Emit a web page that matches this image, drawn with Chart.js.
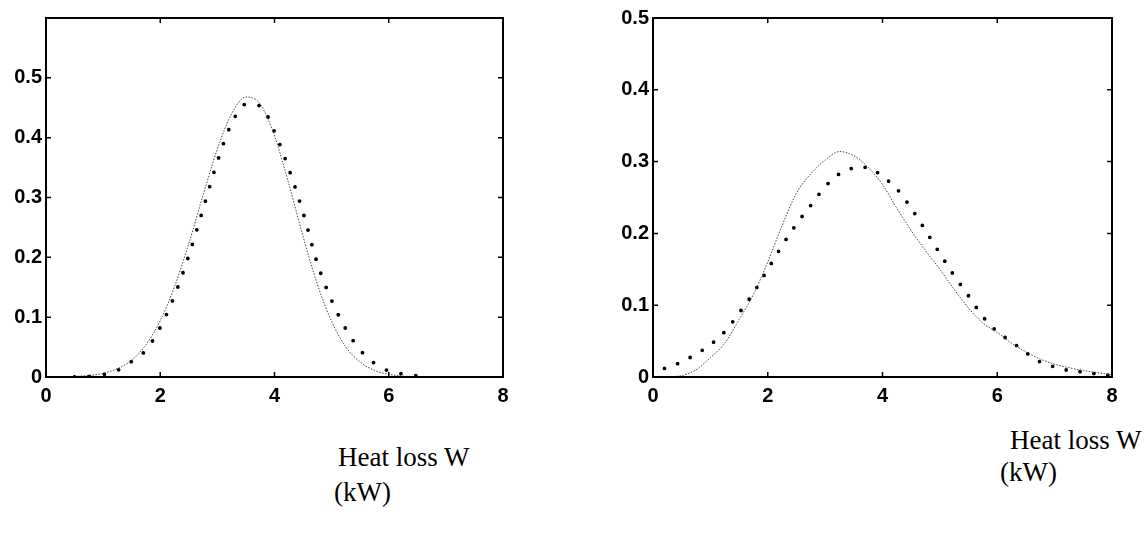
<!DOCTYPE html>
<html>
<head>
<meta charset="utf-8">
<script src="https://cdn.jsdelivr.net/npm/chart.js@4.4.1/dist/chart.umd.min.js"></script>
<style>
  body { margin:0; background:#fff; width:1145px; height:536px; position:relative; overflow:hidden; }
  canvas { position:absolute; top:0; }
  #leftChart { left:0; }
  #rightChart { left:600px; }
  .cap { position:absolute; font-family:"Liberation Serif","Times New Roman",serif; font-size:27px; line-height:1; color:#000; white-space:nowrap; }
</style>
</head>
<body>
<canvas id="leftChart" width="540" height="420"></canvas>
<canvas id="rightChart" width="545" height="420"></canvas>
<div class="cap" style="left:338px;top:444px">Heat loss W</div>
<div class="cap" style="left:334px;top:479px">(kW)</div>
<div class="cap" style="left:1010px;top:427px">Heat loss W</div>
<div class="cap" style="left:1000px;top:459px">(kW)</div>
<script>
// left panel
const leftX = [0.5,0.75,1,1.25,1.5,1.75,2,2.25,2.5,2.75,3,3.25,3.5,3.75,4,4.25,4.5,4.75,5,5.25,5.5,5.75,6,6.25,6.5];
const leftSolid = [0.001,0.0025,0.006,0.014,0.028,0.054,0.094,0.151,0.223,0.304,0.381,0.44,0.468,0.456,0.403,0.323,0.235,0.155,0.093,0.05,0.025,0.011,0.0045,0.0015,0.0005];
const leftDots = [0,0.001,0.004,0.011,0.026,0.045,0.083,0.136,0.203,0.281,0.36,0.424,0.456,0.453,0.41,0.348,0.275,0.19,0.128,0.08,0.045,0.023,0.01,0.005,0.002];

// right panel
const rightX = [0.2,0.5,0.75,1,1.25,1.5,1.75,2,2.25,2.5,2.75,3,3.25,3.5,3.75,4,4.25,4.5,4.75,5,5.25,5.5,5.75,6,6.25,6.5,6.75,7,7.25,7.5,7.75,8];
const rightSolid = [0,0.002,0.01,0.027,0.047,0.08,0.115,0.16,0.211,0.256,0.283,0.302,0.314,0.308,0.292,0.268,0.235,0.204,0.176,0.15,0.122,0.096,0.075,0.062,0.047,0.035,0.025,0.018,0.013,0.009,0.006,0.003];
const rightDots = [0.012,0.021,0.032,0.045,0.063,0.089,0.117,0.15,0.183,0.213,0.239,0.265,0.283,0.291,0.292,0.279,0.262,0.235,0.204,0.172,0.141,0.113,0.084,0.063,0.049,0.034,0.021,0.014,0.009,0.007,0.004,0.002];

const xTicks = [0,2,4,6,8];
const tickFont = { family: '"Liberation Sans", Arial, Helvetica, sans-serif', size: 20, weight: 'bold' };

// box around plot + matlab style inward ticks
const framePlugin = {
  id: 'frame',
  afterDraw(chart) {
    const a = chart.chartArea, c = chart.ctx;
    const xs = chart.scales.x, ys = chart.scales.y;
    c.save();
    c.strokeStyle = '#000';
    c.lineWidth = 2;
    c.strokeRect(a.left, a.top, a.right - a.left, a.bottom - a.top);
    c.lineWidth = 1.5;
    c.beginPath();
    xs.ticks.forEach(t => {
      const px = xs.getPixelForValue(t.value);
      c.moveTo(px, a.bottom); c.lineTo(px, a.bottom - 5);
      c.moveTo(px, a.top); c.lineTo(px, a.top + 5);
    });
    ys.ticks.forEach(t => {
      const py = ys.getPixelForValue(t.value);
      c.moveTo(a.left, py); c.lineTo(a.left + 5, py);
      c.moveTo(a.right, py); c.lineTo(a.right - 5, py);
    });
    c.stroke();
    c.restore();
  }
};

function pts(xs, ys) {
  return xs.map((x, i) => ({ x: x, y: ys[i] }));
}

function makeChart(id, xs, solid, dots, yMax, yLabelMax, axisW, padRight, dotGap) {
  return new Chart(document.getElementById(id), {
    type: 'line',
    data: {
      datasets: [
        {
          data: pts(xs, solid),
          borderColor: '#444',
          borderWidth: 1,
          borderDash: [1.5, 1.5],
          pointRadius: 0,
          tension: 0.4,
          cubicInterpolationMode: 'monotone'
        },
        {
          data: pts(xs, dots),
          borderColor: '#000',
          borderWidth: 3.8,
          borderDash: [0, dotGap],
          borderCapStyle: 'round',
          pointRadius: 0,
          tension: 0.4,
          cubicInterpolationMode: 'monotone'
        }
      ]
    },
    options: {
      responsive: false,
      animation: false,
      layout: { padding: { top: 18, right: padRight, left: 0, bottom: 0 } },
      plugins: { legend: { display: false }, tooltip: { enabled: false } },
      scales: {
        x: {
          type: 'linear',
          min: 0, max: 8,
          afterBuildTicks: s => { s.ticks = xTicks.map(v => ({ value: v })); },
          afterFit: s => { s.height = 43; },
          grid: { display: false, drawTicks: false },
          border: { display: false },
          ticks: { color: '#000', font: tickFont, padding: 7, maxRotation: 0 }
        },
        y: {
          min: 0, max: yMax,
          afterBuildTicks: s => { s.ticks = s.ticks.filter(t => t.value <= yLabelMax + 1e-9); },
          afterFit: s => { s.width = axisW; },
          grid: { display: false, drawTicks: false },
          border: { display: false },
          ticks: { color: '#000', font: tickFont, stepSize: 0.1, padding: 4 }
        }
      }
    },
    plugins: [framePlugin]
  });
}

makeChart('leftChart', leftX, leftSolid, leftDots, 0.6, 0.5, 46, 37, 15);
makeChart('rightChart', rightX, rightSolid, rightDots, 0.5, 0.5, 53, 33, 14);
</script>
</body>
</html>
